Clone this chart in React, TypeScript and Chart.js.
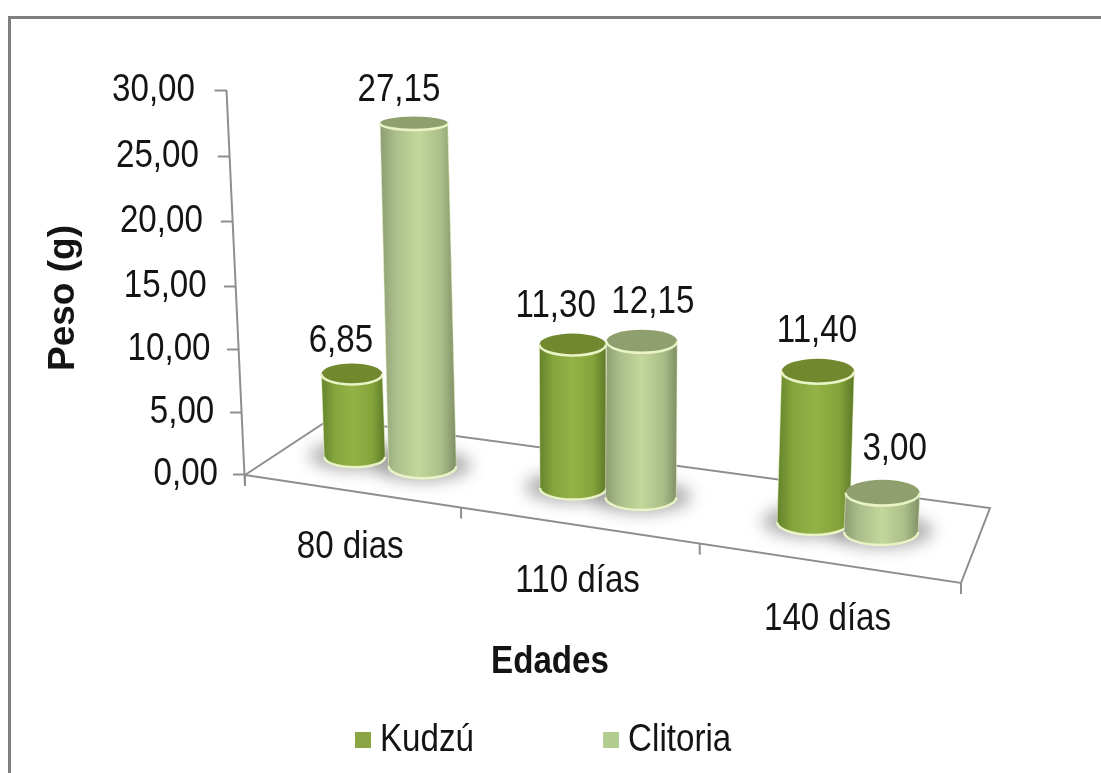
import React, { useEffect, useRef } from "react";
import {
  Chart,
  registerables,
  BarController,
  BarElement,
  CategoryScale,
  LinearScale,
} from "chart.js";

// ---- data ----
const categories = ["80 dias", "110 días", "140 días"];
const kudzu = [6.85, 11.3, 11.4];
const clitoria = [27.15, 12.15, 3.0];
const seriesNames = ["Kudzú", "Clitoria"];
const legendColors = ["#8CA544", "#B2CB8E"];
const yMin = 0;
const yMax = 30;
const yStep = 5;
const xTitle = "Edades";
const yTitle = "Peso (g)";

// ---- style ----
const FONT = '"Liberation Sans", Arial, sans-serif';
const TEXT_SIZE = 39;
const TEXT_CONDENSE = 0.85; // the reference's text is stretched tall
const TEXT = "#141414";
const LINE = "#8E8E8E";
const looks: Record<string, { top: string; stops: string[]; w: [number, number, number] }> = {
  "#8CA544": { top: "#71882F", stops: ["#64822B", "#84A53C", "#93B348", "#84A43B", "#5C7827"], w: [0.865, 0.00036, 355] },
  "#B2CB8E": { top: "#8F9F6D", stops: ["#8C9C74", "#ABBE8A", "#C3D79C", "#ABBE88", "#7F8F66"], w: [0.96, 0.0002, 421] },
};
const labelNudges = [
  [[-11, -33], [-17, -38], [-1, -40]],
  [[-15, -33], [11, -39], [12, -43]],
];

// ---- projection of the 3-D floor (front edge is the category axis) ----
const FL = { x: 245, y: 475 };
const FR = { x: 961, y: 583 };
const BL = { x: 330, y: 419 };
const BR = { x: 990, y: 508 };
const lerp = (a: number, b: number, t: number) => a + (b - a) * t;
const frontY = (x: number) => FL.y + ((x - FL.x) * (FR.y - FL.y)) / (FR.x - FL.x);
const wallX = (y: number) => 226.5 + (y - 90) * 0.048;
const floorPoint = (xFront: number, depth: number) => {
  const u = (xFront - FL.x) / (FR.x - FL.x);
  return {
    x: lerp(lerp(FL.x, BL.x, depth), lerp(FR.x, BR.x, depth), u),
    y: lerp(lerp(FL.y, BL.y, depth), lerp(FR.y, BR.y, depth), u),
  };
};
const flatness = (y: number) => Math.min(0.35, 0.2 + Math.max(0, y - 124) * (0.14 / 240));

class SkewLinearScale extends LinearScale {
  static id = "skewLinear";
  static defaults = LinearScale.defaults;
  getPixelForDecimal(t: number) {
    const f = 0.958 * t + 0.042 * t * t;
    return this.bottom - (this.bottom - this.top) * f;
  }
  _computeGridLineItems(area: any) {
    const items = super._computeGridLineItems(area);
    for (const it of items) {
      const dx = wallX(it.ty1) - this.right;
      it.tx1 += dx;
      it.tx2 += dx;
    }
    return items;
  }
  _computeLabelItems(area: any) {
    const items = super._computeLabelItems(area);
    for (const it of items) {
      const t = it.options.translation;
      t[0] += (t[1] - this.bottom) * 0.06;
    }
    return items;
  }
  drawTitle() {
    this.ctx.save();
    this.ctx.translate(0, 16);
    super.drawTitle();
    this.ctx.restore();
  }
}

class SkewCategoryScale extends CategoryScale {
  static id = "skewCategory";
  static defaults = CategoryScale.defaults;
  getPixelForDecimal(t: number) {
    const f = 0.858 * t + 0.142 * t * t;
    return this.left + (this.right - this.left) * f;
  }
  _computeGridLineItems(area: any) {
    const items = super._computeGridLineItems(area);
    const proto = items[0];
    const n = this.ticks.length;
    const out: any[] = [];
    for (let i = 0; i <= n; i++) {
      const x = this.getPixelForDecimal(i / n);
      const y = frontY(x);
      out.push({ ...proto, tx1: x, tx2: x, ty1: y, ty2: y + this.options.grid.tickLength });
    }
    return out;
  }
  _computeLabelItems(area: any) {
    const items = super._computeLabelItems(area);
    for (const it of items) {
      const t = it.options.translation;
      t[1] += frontY(t[0]) - this.top;
    }
    return items;
  }
  drawTitle() {
    this.ctx.save();
    this.ctx.translate(-53, 0);
    super.drawTitle();
    this.ctx.restore();
  }
}

class CylinderElement extends BarElement {
  static id = "cylinder";
  static defaults = BarElement.defaults;
  geom() {
    const b = floorPoint(this.x, 0.5);
    const h = (this.base - this.y) * (0.98 + 0.00019 * (b.x - 355));
    const tx = b.x + h * (b.x - 600) * 0.00014;
    const ty = b.y - h;
    const [w0, w1, w2] = looks[this.options.backgroundColor].w;
    const rx = (this.width / 2) * (w0 + w1 * (b.x - w2));
    return { bx: b.x, by: b.y, tx, ty, rx, ryB: rx * flatness(b.y), ryT: rx * flatness(ty) };
  }
  drawShadow(ctx: CanvasRenderingContext2D) {
    const g = this.geom();
    ctx.save();
    ctx.filter = "blur(8px)";
    ctx.fillStyle = "rgba(125,125,125,0.62)";
    ctx.beginPath();
    ctx.ellipse(g.bx, g.by - 1, g.rx + 15, g.ryB + 4, 0, 0, Math.PI * 2);
    ctx.fill();
    ctx.restore();
  }
  draw(ctx: CanvasRenderingContext2D) {
    const { bx, by, tx, ty, rx, ryB, ryT } = this.geom();
    const look = looks[this.options.backgroundColor];
    const left = Math.min(bx, tx) - rx;
    const right = Math.max(bx, tx) + rx;
    const grad = ctx.createLinearGradient(left, 0, right, 0);
    look.stops.forEach((c, i) => grad.addColorStop([0, 0.2, 0.5, 0.8, 1][i], c));
    ctx.save();
    ctx.beginPath();
    ctx.moveTo(tx - rx, ty);
    ctx.lineTo(bx - rx, by);
    ctx.ellipse(bx, by, rx, ryB, 0, Math.PI, 0, true);
    ctx.lineTo(tx + rx, ty);
    ctx.ellipse(tx, ty, rx, ryT, 0, 0, Math.PI, false);
    ctx.closePath();
    ctx.fillStyle = grad;
    ctx.fill();
    ctx.strokeStyle = "rgba(232,243,196,0.55)";
    ctx.lineWidth = 1;
    ctx.stroke();
    ctx.beginPath();
    ctx.ellipse(tx, ty, rx, ryT, 0, 0, Math.PI * 2);
    ctx.fillStyle = look.top;
    ctx.fill();
    ctx.strokeStyle = "#E9F3C6";
    ctx.lineWidth = 2.5;
    ctx.beginPath();
    ctx.ellipse(tx, ty, rx, ryT, 0, 0, Math.PI, false);
    ctx.stroke();
    ctx.beginPath();
    ctx.ellipse(bx, by, rx, ryB, 0, 0, Math.PI, false);
    ctx.stroke();
    ctx.restore();
  }
}

class CylinderController extends BarController {
  static id = "cylinder";
  static defaults = { ...BarController.defaults, dataElementType: "cylinder" };
}

Chart.register(...registerables, SkewLinearScale, SkewCategoryScale, CylinderElement, CylinderController);

const comma = (v: number) => v.toFixed(2).replace(".", ",");

const scene3d = {
  id: "scene3d",
  afterLayout(chart: any) {
    const lg = chart.legend;
    const p = lg.options.labels.padding;
    lg.left = 0;
    lg.right = 2 * 359.5 - p + lg.lineWidths[0];
    lg.top = 740 - TEXT_SIZE / 2 - p;
    lg.bottom = 773;
    lg.width = lg.right;
    lg.height = lg.bottom - lg.top;
  },
  beforeDraw(chart: any) {
    const ctx: CanvasRenderingContext2D = chart.ctx;
    ctx.save();
    ctx.strokeStyle = "#808080";
    ctx.lineWidth = 3;
    ctx.beginPath();
    ctx.moveTo(9.5, 773);
    ctx.lineTo(9.5, 17.5);
    ctx.lineTo(1101, 17.5);
    ctx.stroke();
    ctx.restore();
  },
  beforeDatasetsDraw(chart: any) {
    const ctx: CanvasRenderingContext2D = chart.ctx;
    ctx.save();
    ctx.strokeStyle = LINE;
    ctx.lineWidth = 2;
    ctx.beginPath();
    ctx.moveTo(wallX(90), 90);
    ctx.lineTo(FL.x, FL.y + 11);
    ctx.moveTo(FL.x, FL.y);
    ctx.lineTo(BL.x, BL.y);
    ctx.lineTo(BR.x, BR.y);
    ctx.lineTo(FR.x, FR.y);
    ctx.lineTo(FL.x, FL.y);
    ctx.stroke();
    ctx.restore();

    const metas = [chart.getDatasetMeta(0), chart.getDatasetMeta(1)];
    metas.forEach((m) => m.data.forEach((el: any) => el.drawShadow(ctx)));
    metas.forEach((m) => m.data.forEach((el: any) => el.draw(ctx)));

    ctx.save();
    ctx.font = `${TEXT_SIZE}px ${FONT}`;
    ctx.fillStyle = TEXT;
    ctx.textAlign = "center";
    ctx.textBaseline = "middle";
    metas.forEach((m, d) =>
      m.data.forEach((el: any, i: number) => {
        const g = el.geom();
        const [nx, ny] = labelNudges[d][i];
        ctx.fillText(comma(chart.data.datasets[d].data[i]), g.tx + nx, g.ty + ny);
      })
    );
    ctx.restore();
    return false;
  },
};

const legendSwatch = (color: string) => {
  const c = document.createElement("canvas");
  c.width = 22;
  c.height = 16;
  const x = c.getContext("2d")!;
  x.fillStyle = color;
  x.fillRect(6, 0, 16, 16);
  return c;
};

// Every horizontal label is drawn condensed around its anchor, like the reference's tall text.
const condenseText = (ctx: CanvasRenderingContext2D) => {
  const fill = ctx.fillText.bind(ctx);
  ctx.fillText = (text: string, x: number, y: number) => {
    if (ctx.getTransform().b !== 0) {
      fill(text, x, y);
      return;
    }
    ctx.save();
    ctx.translate(x, y);
    ctx.scale(TEXT_CONDENSE, 1);
    fill(text, 0, 0);
    ctx.restore();
  };
};

export default function App() {
  const ref = useRef<HTMLCanvasElement>(null);
  useEffect(() => {
    const swatches = legendColors.map(legendSwatch);
    condenseText(ref.current!.getContext("2d")!);
    const chart = new Chart(ref.current!, {
      type: "cylinder" as any,
      data: {
        labels: categories,
        datasets: [
          { label: seriesNames[0], data: kudzu, backgroundColor: legendColors[0] },
          { label: seriesNames[1], data: clitoria, backgroundColor: legendColors[1] },
        ],
      },
      plugins: [scene3d as any],
      options: {
        animation: false,
        responsive: false,
        devicePixelRatio: 1,
        categoryPercentage: 0.62,
        barPercentage: 1,
        layout: { padding: { top: 90, right: 140, left: 0, bottom: 0 } },
        plugins: {
          tooltip: { enabled: false },
          legend: {
            position: "bottom",
            maxHeight: 1,
            labels: {
              usePointStyle: true,
              boxWidth: 1,
              padding: 117,
              color: TEXT,
              font: { family: FONT, size: TEXT_SIZE },
              generateLabels: (c: any) =>
                Chart.defaults.plugins.legend.labels
                  .generateLabels(c)
                  .map((it: any, i: number) => ({ ...it, pointStyle: swatches[i] })),
            },
          },
        } as any,
        scales: {
          x: {
            type: "skewCategory" as any,
            offset: true,
            afterFit: (s: any) => {
              s.height = 298;
            },
            border: { display: false },
            grid: {
              drawOnChartArea: false,
              drawTicks: true,
              tickLength: 11,
              tickColor: LINE,
              tickWidth: 2,
              offset: true,
            },
            ticks: {
              autoSkip: false,
              maxRotation: 0,
              minRotation: 0,
              padding: 22,
              color: TEXT,
              font: { family: FONT, size: TEXT_SIZE },
            },
            title: {
              display: true,
              text: xTitle,
              color: TEXT,
              padding: { top: 0, bottom: 86 },
              font: { family: FONT, size: TEXT_SIZE, weight: "bold" },
            },
          },
          y: {
            type: "skewLinear" as any,
            min: yMin,
            max: yMax,
            afterFit: (s: any) => {
              s.width = 245;
            },
            border: { display: false },
            grid: {
              drawOnChartArea: false,
              drawTicks: true,
              tickLength: 12,
              tickColor: LINE,
              tickWidth: 2,
            },
            ticks: {
              stepSize: yStep,
              padding: 15,
              color: TEXT,
              font: { family: FONT, size: TEXT_SIZE },
              callback: (v: any) => comma(Number(v)),
            },
            title: {
              display: true,
              text: yTitle,
              color: TEXT,
              padding: { top: 42, bottom: 0 },
              font: { family: FONT, size: 37, weight: "bold" },
            },
          },
        },
      } as any,
    });
    return () => chart.destroy();
  }, []);
  return (
    <div style={{ position: "absolute", left: 0, top: 0, width: 1101, height: 773 }}>
      <canvas ref={ref} width={1101} height={773} style={{ display: "block", filter: "blur(0.4px)" }} />
    </div>
  );
}
